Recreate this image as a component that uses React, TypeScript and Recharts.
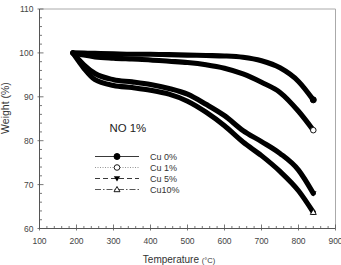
import React from "react";
import { LineChart, Line, XAxis, YAxis, ReferenceLine } from "recharts";

// Temperature sampling points (°C)
const temps = [190, 220, 250, 300, 350, 400, 450, 500, 550, 600, 650, 700, 750, 800, 840];

// Residual weight (%) for each Cu loading
const cu0 = [100, 99.95, 99.9, 99.8, 99.7, 99.7, 99.6, 99.5, 99.4, 99.3, 99.0, 98.2, 96.6, 93.5, 89.3];
const cu1 = [100, 99.5, 99.1, 98.8, 98.6, 98.4, 98.1, 97.8, 97.3, 96.5, 95.2, 93.3, 91.0, 86.7, 82.4];
const cu5 = [100, 97.3, 95.3, 93.9, 93.4, 92.8, 91.9, 90.6, 88.3, 85.7, 82.3, 79.8, 77.1, 73.3, 68.0];
const cu10 = [100, 96.5, 93.9, 92.6, 92.1, 91.5, 90.6, 89.0, 86.5, 83.4, 79.7, 76.6, 73.0, 68.6, 63.7];

const seriesNames = ["Cu 0%", "Cu 1%", "Cu 5%", "Cu10%"];

const toPoints = (vals: number[]) => temps.map((t, i) => ({ t, w: vals[i] }));

// Major ticks every 100 °C / 10 %, minor ticks every 20 °C / 2 %
const xMinor: number[] = [];
for (let v = 100; v <= 900; v += 20) xMinor.push(v);
const yMinor: number[] = [];
for (let v = 60; v <= 110; v += 2) yMinor.push(v);

const FONT = "'Liberation Sans', Arial, sans-serif";
const AXIS = "#555";

const XTick = (props: any) => {
  const { x, y, payload } = props;
  const v = payload.value;
  const major = v % 100 === 0;
  return (
    <g>
      <line x1={x} x2={x} y1={y} y2={y - (major ? 4 : 2.5)} stroke={AXIS} strokeWidth={0.8} />
      {major && <line x1={x} x2={x} y1={y} y2={y + 2} stroke={AXIS} strokeWidth={0.8} />}
      {major && (
        <text x={x} y={y + 15} textAnchor="middle" fontSize={8.5} fill="#444" fontFamily={FONT}>
          {v}
        </text>
      )}
    </g>
  );
};

const YTick = (props: any) => {
  const { x, y, payload } = props;
  const v = payload.value;
  const major = v % 10 === 0;
  return (
    <g>
      <line x1={x} x2={x + (major ? 4 : 2.5)} y1={y} y2={y} stroke={AXIS} strokeWidth={0.8} />
      {major && <line x1={x} x2={x - 2} y1={y} y2={y} stroke={AXIS} strokeWidth={0.8} />}
      {major && (
        <text x={x - 6} y={y + 3} textAnchor="end" fontSize={8.5} fill="#444" fontFamily={FONT}>
          {v}
        </text>
      )}
    </g>
  );
};

type MarkerKind = "filledCircle" | "openCircle" | "filledTri" | "openTri";

const Marker = ({ cx, cy, kind }: { cx: number; cy: number; kind: MarkerKind }) => {
  if (kind === "filledCircle") return <circle cx={cx} cy={cy} r={3} fill="#000" stroke="#000" />;
  if (kind === "openCircle") return <circle cx={cx} cy={cy} r={2.8} fill="#fff" stroke="#000" strokeWidth={0.9} />;
  if (kind === "filledTri")
    return <path d={`M${cx - 3.2},${cy - 2.2} L${cx + 3.2},${cy - 2.2} L${cx},${cy + 3} Z`} fill="#000" />;
  return (
    <path
      d={`M${cx - 3},${cy + 2.2} L${cx + 3},${cy + 2.2} L${cx},${cy - 3} Z`}
      fill="#fff"
      stroke="#000"
      strokeWidth={0.9}
    />
  );
};

// Only the last sample of each curve carries its symbol
const endDot = (kind: MarkerKind) => (props: any) => {
  const { cx, cy, index } = props;
  if (index !== temps.length - 1) return <g key={`d${index}`} />;
  return (
    <g key={`d${index}`}>
      <Marker cx={cx} cy={cy} kind={kind} />
    </g>
  );
};

const legendRows: { name: string; dash: string; color: string; kind: MarkerKind }[] = [
  { name: seriesNames[0], dash: "", color: "#222", kind: "filledCircle" },
  { name: seriesNames[1], dash: "1 1.5", color: "#888", kind: "openCircle" },
  { name: seriesNames[2], dash: "5 3", color: "#222", kind: "filledTri" },
  { name: seriesNames[3], dash: "6 2 1.5 2", color: "#444", kind: "openTri" },
];

const series: { vals: number[]; kind: MarkerKind }[] = [
  { vals: cu0, kind: "filledCircle" },
  { vals: cu1, kind: "openCircle" },
  { vals: cu5, kind: "filledTri" },
  { vals: cu10, kind: "openTri" },
];

export default function App() {
  return (
    <div style={{ position: "absolute", left: 0, top: 0, width: 341, height: 265, background: "#fff" }}>
      <LineChart width={341} height={265} margin={{ top: 9, right: 5.5, left: 0, bottom: 0 }}>
        <XAxis
          type="number"
          dataKey="t"
          domain={[100, 900]}
          ticks={xMinor}
          interval={0}
          tickSize={0}
          tickMargin={0}
          tickLine={false}
          axisLine={{ stroke: AXIS, strokeWidth: 1 }}
          tick={<XTick />}
          height={36.5}
          allowDataOverflow
        />
        <YAxis
          type="number"
          domain={[60, 110]}
          ticks={yMinor}
          interval={0}
          tickSize={0}
          tickMargin={0}
          tickLine={false}
          axisLine={{ stroke: AXIS, strokeWidth: 1 }}
          tick={<YTick />}
          width={39.5}
          allowDataOverflow
        />
        <ReferenceLine y={110} stroke="#aaa" strokeWidth={1} />
        <ReferenceLine x={900} stroke="#aaa" strokeWidth={1} />
        {series.map((s, i) => (
          <Line
            key={seriesNames[i]}
            name={seriesNames[i]}
            data={toPoints(s.vals)}
            dataKey="w"
            type="monotone"
            stroke="#000"
            strokeWidth={5.1}
            strokeLinecap="round"
            strokeLinejoin="round"
            dot={endDot(s.kind)}
            activeDot={false}
            isAnimationActive={false}
          />
        ))}
      </LineChart>
      <svg
        width={341}
        height={265}
        style={{ position: "absolute", left: 0, top: 0, pointerEvents: "none" }}
        fontFamily={FONT}
      >
        <text x={109.5} y={132} fontSize={11.4} fill="#222">
          NO 1%
        </text>
        {legendRows.map((r, i) => {
          const y = 156.5 + i * 11;
          return (
            <g key={r.name}>
              <line x1={95} x2={139} y1={y} y2={y} stroke={r.color} strokeWidth={0.9} strokeDasharray={r.dash || undefined} />
              <Marker cx={117} cy={y} kind={r.kind} />
              <text x={150} y={y + 3} fontSize={9} fill="#333">
                {r.name}
              </text>
            </g>
          );
        })}
        <text transform="translate(9,108) rotate(-90)" textAnchor="middle" fontSize={10.5} fill="#333">
          Weight (%)
        </text>
        <text x={179} y={263} textAnchor="middle" fontSize={10} fill="#333">
          Temperature{" "}
          <tspan fontSize={7.5}>(°C)</tspan>
        </text>
      </svg>
    </div>
  );
}
